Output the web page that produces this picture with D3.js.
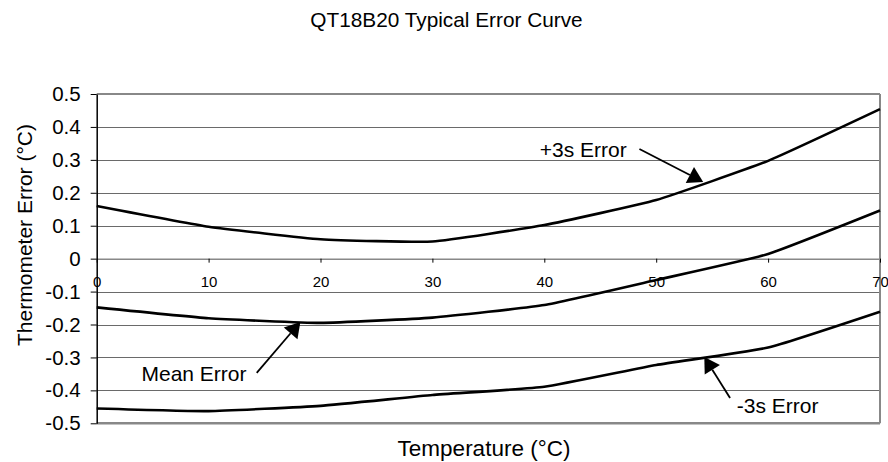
<!DOCTYPE html>
<html>
<head>
<meta charset="utf-8">
<script src="https://cdn.jsdelivr.net/npm/d3@7"></script>
<style>
  html, body { margin: 0; padding: 0; background: #fff; }
  svg { display: block; font-family: "Liberation Sans", Arial, sans-serif; }
</style>
</head>
<body>
<svg id="chart" width="888" height="462"></svg>
<script>
// ---- data ----
const temperatures = [0, 10, 20, 30, 40, 50, 60, 70];
const plus3sError = [0.160, 0.097, 0.059, 0.052, 0.102, 0.178, 0.297, 0.454];
const meanError   = [-0.148, -0.181, -0.195, -0.179, -0.141, -0.065, 0.014, 0.146];
const minus3sError = [-0.455, -0.463, -0.447, -0.414, -0.389, -0.323, -0.270, -0.161];
const yTicks = [0.5, 0.4, 0.3, 0.2, 0.1, 0, -0.1, -0.2, -0.3, -0.4, -0.5];
const xTicks = [0, 10, 20, 30, 40, 50, 60, 70];
const annotationLabels = ["+3s Error", "Mean Error", "-3s Error"];
// annotation anchors in data units: text (x, y), arrow start, arrow tip
const annotTextX = [39.6, 4.0, 57.2];
const annotTextY = [0.31, -0.372, -0.468];
const arrowFromX = [48.5, 14.3, 56.6];
const arrowFromY = [0.333, -0.347, -0.423];
const arrowToX = [54.2, 18.2, 54.3];
const arrowToY = [0.233, -0.192, -0.299];

(function () {
const svg = d3.select("#chart");
const pL = 96.7, pR = 880, pT = 94, pB = 423.3;

const x = d3.scaleLinear().domain([0, 70]).range([pL, pR]);
const y = d3.scaleLinear().domain([-0.5, 0.5]).range([pB, pT]);

// title
svg.append("text").attr("x", 446.5).attr("y", 26.5).attr("text-anchor", "middle")
  .attr("font-size", 20.8).attr("fill", "#000").text("QT18B20 Typical Error Curve");

// gridlines
svg.append("g").selectAll("line").data(yTicks.filter(d => d !== 0 && d !== 0.5 && d !== -0.5)).join("line")
  .attr("x1", pL).attr("x2", pR)
  .attr("y1", d => Math.round(y(d)) + 0.5).attr("y2", d => Math.round(y(d)) + 0.5)
  .attr("stroke", "#6a6a6a").attr("stroke-width", 1.2);

// frame top/right/bottom
svg.append("line").attr("x1", pL).attr("x2", pR).attr("y1", pT).attr("y2", pT)
  .attr("stroke", "#888").attr("stroke-width", 2);
svg.append("line").attr("x1", pR).attr("x2", pR).attr("y1", pT).attr("y2", pB)
  .attr("stroke", "#888").attr("stroke-width", 2);
svg.append("line").attr("x1", pL).attr("x2", pR).attr("y1", pB).attr("y2", pB)
  .attr("stroke", "#888").attr("stroke-width", 2.5);

// x axis at zero
const xAxis = d3.axisBottom(x).tickValues(xTicks).tickSize(4).tickSizeOuter(0).tickFormat(d3.format("d"));
const gx = svg.append("g").attr("transform", `translate(0,${y(0)})`).call(xAxis);
gx.select(".domain").attr("stroke", "#888").attr("stroke-width", 1.5);
gx.selectAll(".tick line").attr("stroke", "#000");
gx.selectAll(".tick text").attr("font-size", 15).attr("font-family", "Liberation Sans, Arial, sans-serif")
  .attr("fill", "#000").attr("dy", "0").attr("y", 28);

// y axis
const yAxis = d3.axisLeft(y).tickValues(yTicks).tickSize(6).tickSizeOuter(0)
  .tickFormat(d => d === 0 ? "0" : d3.format(".1f")(d).replace("−", "-"));
const gy = svg.append("g").attr("transform", `translate(${pL},0)`).call(yAxis);
gy.select(".domain").attr("stroke", "#000").attr("stroke-width", 1.5);
gy.selectAll(".tick line").attr("stroke", "#000");
gy.selectAll(".tick text").attr("font-size", 20.5).attr("font-family", "Liberation Sans, Arial, sans-serif")
  .attr("fill", "#000").attr("x", -16);

// axis titles
svg.append("text").attr("transform", `translate(32,235) rotate(-90)`).attr("text-anchor", "middle")
  .attr("font-size", 21).attr("fill", "#000").text("Thermometer Error (°C)");
svg.append("text").attr("x", 484).attr("y", 456).attr("text-anchor", "middle")
  .attr("font-size", 22.5).attr("fill", "#000").text("Temperature (°C)");

// curves
const line = d3.line().x((d, i) => x(temperatures[i])).y(d => y(d)).curve(d3.curveCardinal.tension(0.6));
[plus3sError, meanError, minus3sError].forEach(series => {
  svg.append("path").datum(series).attr("d", line)
    .attr("fill", "none").attr("stroke", "#000").attr("stroke-width", 2.6).attr("stroke-linejoin", "round");
});

// annotations
annotationLabels.forEach((label, i) => {
  svg.append("text").attr("x", x(annotTextX[i])).attr("y", y(annotTextY[i]))
    .attr("font-size", 21).attr("fill", "#000").text(label);
  const x0 = x(arrowFromX[i]), y0 = y(arrowFromY[i]);
  const x1 = x(arrowToX[i]), y1 = y(arrowToY[i]);
  const dx = x1 - x0, dy = y1 - y0, len = Math.hypot(dx, dy);
  const ux = dx / len, uy = dy / len;
  const hl = 15, hw = 9;
  const bx = x1 - ux * hl, by = y1 - uy * hl;
  svg.append("line").attr("x1", x0).attr("y1", y0).attr("x2", bx).attr("y2", by)
    .attr("stroke", "#000").attr("stroke-width", 1.8);
  svg.append("path")
    .attr("d", `M${x1},${y1}L${bx - uy * hw},${by + ux * hw}L${bx + uy * hw},${by - ux * hw}Z`)
    .attr("fill", "#000");
});
})();
</script>
</body>
</html>
